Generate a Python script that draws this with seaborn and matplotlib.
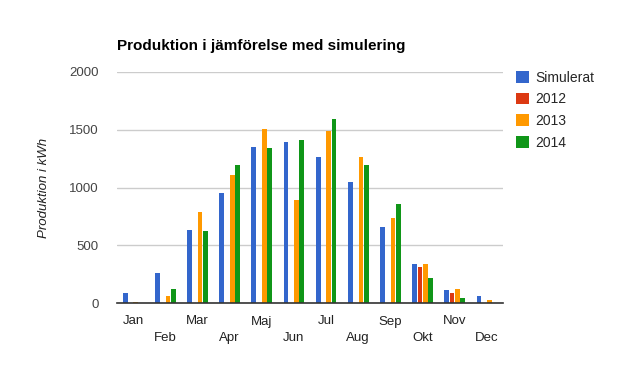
import matplotlib
matplotlib.use("Agg")
import matplotlib.pyplot as plt
import numpy as np
import pandas as pd
import seaborn as sns

months = ["Jan", "Feb", "Mar", "Apr", "Maj", "Jun", "Jul", "Aug", "Sep", "Okt", "Nov", "Dec"]
series = ["Simulerat", "2012", "2013", "2014"]
simulerat = [87, 260, 632, 952, 1351, 1394, 1264, 1048, 658, 338, 113, 61]
y2012 = [np.nan] * 9 + [312, 87, np.nan]
y2013 = [10, 61, 788, 1108, 1506, 892, 1489, 1264, 736, 338, 121, 26]
y2014 = [3, 121, 623, 1195, 1342, 1411, 1593, 1195, 857, 216, 43, np.nan]
colors = ["#3366cc", "#dc3912", "#ff9900", "#109618"]


def main():
    sns.set_theme(style="white")
    plt.rcParams["font.family"] = ["Liberation Sans", "DejaVu Sans"]

    df = pd.DataFrame({"month": months, "Simulerat": simulerat, "2012": y2012,
                       "2013": y2013, "2014": y2014})
    long_df = df.melt(id_vars="month", var_name="serie", value_name="kwh")

    fig = plt.figure(figsize=(6.2, 3.75), dpi=100)
    ax = fig.add_axes([117 / 620, 72 / 375, 386 / 620, 231 / 375])

    sns.barplot(data=long_df, x="month", y="kwh", hue="serie", hue_order=series,
                order=months, palette=colors, width=0.66, gap=0.1, ax=ax,
                saturation=1, legend=True, errorbar=None, linewidth=0)

    ax.set_ylim(0, 2000)
    ax.set_yticks([0, 500, 1000, 1500, 2000])
    ax.yaxis.grid(True, color="#cccccc", linewidth=1)
    ax.set_axisbelow(True)
    for s in ["top", "right", "left"]:
        ax.spines[s].set_visible(False)
    ax.spines["bottom"].set_color("#333333")
    ax.spines["bottom"].set_linewidth(1.2)
    ax.set_xlim(-0.5, 11.5)

    labels = [m if i % 2 == 0 else "\n" + m for i, m in enumerate(months)]
    ax.set_xticks(range(12))
    ax.set_xticklabels(labels, fontsize=9.5, color="#222222", linespacing=1.5)
    ax.tick_params(axis="x", length=0, pad=9)
    ax.tick_params(axis="y", length=0, pad=13, labelsize=9.5, labelcolor="#444444")

    ax.set_xlabel("")
    ax.set_ylabel("Produktion i kWh", fontstyle="italic", fontsize=9.5, color="#222222", labelpad=14)

    ax.set_title("Produktion i jämförelse med simulering", loc="left", fontsize=11,
                 fontweight="bold", x=0, y=1.06, color="#000000")

    handles, lbls = ax.get_legend_handles_labels()
    ax.legend(handles, lbls, loc="upper left", bbox_to_anchor=(1.02, 1.03),
              frameon=False, fontsize=10, handlelength=0.9, handleheight=0.9,
              labelspacing=0.55, handletextpad=0.5, borderaxespad=0)

    fig.savefig("out.png", dpi=100)
    plt.close(fig)


if __name__ == "__main__":
    main()
